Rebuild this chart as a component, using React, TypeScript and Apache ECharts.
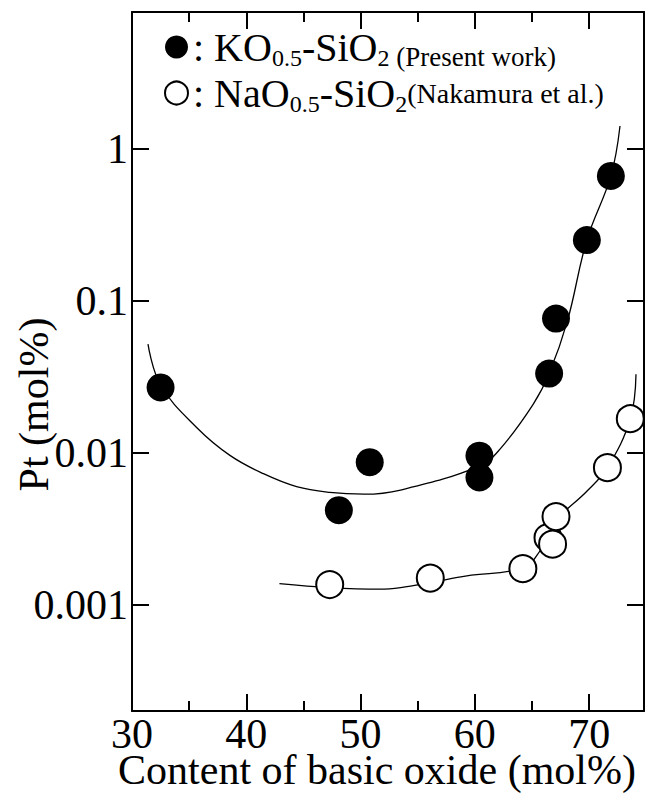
import React, { useEffect, useRef } from "react";
import * as echarts from "echarts";

// ---- data ----
const X_MAJOR_TICKS = [30, 40, 50, 60, 70];
const X_MINOR_TICKS = [35, 45, 55, 65];
const X_MIN = 30;
const X_MAX = 74.8;
const Y_MIN = 0.0002;
const Y_MAX = 8;

// KO0.5-SiO2 (Present work) — filled circles
const koX = [32.5, 48.1, 50.8, 60.4, 60.4, 66.5, 67.1, 69.8, 71.9];
const koPt = [0.027, 0.0042, 0.0087, 0.0096, 0.0069, 0.0333, 0.0767, 0.252, 0.667];

// NaO0.5-SiO2 (Nakamura et al.) — open circles
const naoX = [47.3, 56.1, 64.2, 66.4, 66.8, 67.1, 71.6, 73.6];
const naoPt = [0.00136, 0.0015, 0.00173, 0.00277, 0.00251, 0.00381, 0.008, 0.0168];

// fitted curves
const koCurveX = [31.4, 32.5, 35.7, 38.6, 41.5, 44.4, 47.3, 50.3, 53.5, 60.4, 62.2, 65.1, 66.5, 68.1, 69.8, 71.9, 72.7];
const koCurvePt = [0.052, 0.028, 0.0146, 0.0096, 0.0073, 0.006, 0.0055, 0.00535, 0.0057, 0.0082, 0.0106, 0.0209, 0.0333, 0.074, 0.252, 0.667, 1.42];

const naoCurveX = [42.9, 47.3, 51.7, 53.5, 56.1, 59.3, 64.2, 65.7, 67.1, 69.8, 71.6, 73.6, 74.1];
const naoCurvePt = [0.00138, 0.0013, 0.00127, 0.0013, 0.0014, 0.00155, 0.00175, 0.00227, 0.00357, 0.0056, 0.008, 0.0168, 0.033];

const FONT = "Liberation Serif";

function pairs(xs: number[], ys: number[]) {
  return xs.map((x, i) => [x, ys[i]]);
}

export default function App() {
  const ref = useRef<HTMLDivElement>(null);
  useEffect(() => {
    if (!ref.current) return;
    const chart = echarts.init(ref.current, undefined, { renderer: "svg" });
    const axisLine = { show: true, lineStyle: { color: "#000", width: 2 } };
    const baseX = { type: "value", min: X_MIN, max: X_MAX, splitLine: { show: false } };
    const baseY = { type: "log", min: Y_MIN, max: Y_MAX, splitLine: { show: false }, minorTick: { show: false } };
    chart.setOption({
      animation: false,
      backgroundColor: "#fff",
      grid: { left: 132, right: 6, top: 12, bottom: 84, containLabel: false, outerBoundsMode: "none" },
      legend: {
        orient: "vertical",
        left: 164,
        top: 27,
        padding: 0,
        itemGap: 3,
        itemWidth: 23,
        itemHeight: 23,
        data: ["ko", "nao"],
        formatter: (name: string) =>
          name === "ko"
            ? "{m|: KO}{s|0.5}{m|-SiO}{s|2}{p| (Present work)}"
            : "{m|: NaO}{s|0.5}{m|-SiO}{s|2}{n|(Nakamura et al.)}",
        textStyle: {
          color: "#000",
          fontFamily: FONT,
          rich: {
            m: { fontSize: 40, lineHeight: 46, fontFamily: FONT, color: "#000" },
            s: { fontSize: 24, lineHeight: 19, verticalAlign: "bottom", fontFamily: FONT, color: "#000" },
            p: { fontSize: 27, lineHeight: 33, verticalAlign: "bottom", fontFamily: FONT, color: "#000" },
            n: { fontSize: 28, fontFamily: FONT, color: "#000" },
          },
        },
      },
      xAxis: [
        {
          ...baseX,
          position: "bottom",
          axisLine,
          axisTick: { show: true, inside: true, length: 17, customValues: X_MAJOR_TICKS, lineStyle: { color: "#000", width: 2 } },
          axisLabel: { show: true, customValues: X_MAJOR_TICKS, margin: 8, lineHeight: 30, fontSize: 42, fontFamily: FONT, color: "#000" },
          name: "Content of basic oxide (mol%)",
          nameLocation: "middle",
          nameGap: 44,
          nameMoveOverlap: false,
          nameTextStyle: { fontSize: 42, lineHeight: 30, fontFamily: FONT, color: "#000", padding: [0, 22, 0, 0] },
        },
        {
          ...baseX,
          position: "bottom",
          axisLine: { show: false },
          axisTick: { show: true, inside: true, length: 10, customValues: X_MINOR_TICKS, lineStyle: { color: "#000", width: 2 } },
          axisLabel: { show: false },
        },
        {
          ...baseX,
          position: "top",
          axisLine,
          axisTick: { show: true, inside: true, length: 17, customValues: X_MAJOR_TICKS, lineStyle: { color: "#000", width: 2 } },
          axisLabel: { show: false },
        },
        {
          ...baseX,
          position: "top",
          axisLine: { show: false },
          axisTick: { show: true, inside: true, length: 10, customValues: X_MINOR_TICKS, lineStyle: { color: "#000", width: 2 } },
          axisLabel: { show: false },
        },
      ],
      yAxis: [
        {
          ...baseY,
          position: "left",
          axisLine,
          axisTick: { show: true, inside: true, length: 17, lineStyle: { color: "#000", width: 2 } },
          axisLabel: {
            show: true,
            showMinLabel: false,
            showMaxLabel: false,
            margin: 4,
            fontSize: 42,
            fontFamily: FONT,
            color: "#000",
            formatter: (v: number) => String(parseFloat(v.toPrecision(3))),
          },
          name: "Pt (mol%)",
          nameLocation: "middle",
          nameGap: 77,
          nameMoveOverlap: false,
          nameTextStyle: { fontSize: 42, fontFamily: FONT, color: "#000", padding: [0, 86, 0, 0] },
        },
        {
          ...baseY,
          position: "right",
          axisLine,
          axisTick: { show: true, inside: true, length: 17, lineStyle: { color: "#000", width: 2 } },
          axisLabel: { show: false },
        },
      ],
      series: [
        {
          name: "koCurve",
          type: "line",
          smooth: 0.4,
          showSymbol: false,
          silent: true,
          data: pairs(koCurveX, koCurvePt),
          lineStyle: { color: "#000", width: 1.3 },
          z: 1,
        },
        {
          name: "naoCurve",
          type: "line",
          smooth: 0.4,
          showSymbol: false,
          silent: true,
          data: pairs(naoCurveX, naoCurvePt),
          lineStyle: { color: "#000", width: 1.3 },
          z: 1,
        },
        {
          name: "ko",
          type: "scatter",
          symbol: "circle",
          symbolSize: 28,
          data: pairs(koX, koPt),
          itemStyle: { color: "#000", opacity: 1 },
          z: 3,
        },
        {
          name: "nao",
          type: "scatter",
          symbol: "circle",
          symbolSize: 27,
          data: pairs(naoX, naoPt),
          itemStyle: { color: "#fff", borderColor: "#000", borderWidth: 2, opacity: 1 },
          z: 3,
        },
      ],
    });
    return () => chart.dispose();
  }, []);
  return (
    <div
      ref={ref}
      style={{ position: "fixed", left: 0, top: 0, width: 650, height: 795, background: "#fff" }}
    />
  );
}
